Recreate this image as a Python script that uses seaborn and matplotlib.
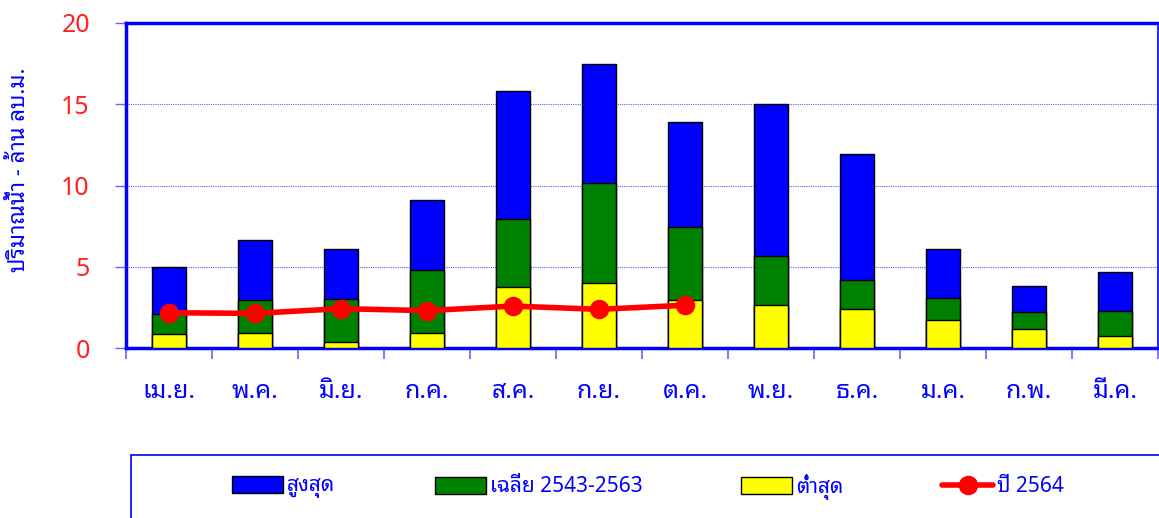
import matplotlib
matplotlib.use("Agg")
import matplotlib.pyplot as plt
from matplotlib.patches import Rectangle, Patch
from matplotlib.lines import Line2D
import seaborn as sns
import pandas as pd

months = ["เม.ย.", "พ.ค.", "มิ.ย.", "ก.ค.", "ส.ค.", "ก.ย.",
          "ต.ค.", "พ.ย.", "ธ.ค.", "ม.ค.", "ก.พ.", "มี.ค."]
max_vals = [4.98, 6.65, 6.11, 9.13, 15.83, 17.46, 13.90, 15.00, 11.94, 6.07, 3.83, 4.70]
avg_vals = [2.10, 2.97, 3.03, 4.80, 7.92, 10.15, 7.45, 5.64, 4.16, 3.06, 2.19, 2.30]
min_vals = [0.85, 0.94, 0.39, 0.94, 3.77, 4.02, 2.95, 2.63, 2.38, 1.74, 1.19, 0.76]
y2564_vals = [2.17, 2.13, 2.42, 2.30, 2.58, 2.38, 2.63]
y_ticks = [0, 5, 10, 15, 20]

sns.set_theme(style="white")
FONTS = ["Noto Sans Thai Looped", "Sarabun", "Noto Sans Thai", "Athiti", "DejaVu Sans"]
plt.rcParams["font.family"] = FONTS

W, H = 1159, 518
fig = plt.figure(figsize=(W / 100, H / 100), dpi=100)
ax = fig.add_axes([126 / W, 1 - 348 / H, (1158 - 126) / W, (348 - 23) / H])

df = pd.DataFrame({"month": months, "max": max_vals, "avg": avg_vals, "min": min_vals})
for col, colr in [("max", "#0000FF"), ("avg", "#008000"), ("min", "#FFFF00")]:
    sns.barplot(data=df, x="month", y=col, order=months, color=colr, width=0.4,
                edgecolor="black", linewidth=1.0, saturation=1, ax=ax, zorder=3)

ax.plot(range(len(y2564_vals)), y2564_vals, color="#FF0000", lw=4, marker="o",
        markersize=13, zorder=5, solid_capstyle="round")

ax.set_xlim(-0.5, len(months) - 0.5)
ax.set_ylim(0, 20)
ax.set_yticks(y_ticks)
ax.set_yticklabels([str(t) for t in y_ticks], color="#FF2222", fontsize=18)
ax.yaxis.grid(True, color="#3333FF", linestyle=(0, (1, 1)), linewidth=0.8, alpha=0.8)
ax.set_axisbelow(True)

# category boundaries carry the x tick marks; labels sit at bar centres
ax.set_xticks([i - 0.5 for i in range(len(months) + 1)], minor=False)
ax.set_xticklabels([])
ax.set_xticks(range(len(months)), minor=True)
ax.set_xticklabels(months, minor=True, color="#0000FF", fontsize=18)
ax.tick_params(axis="x", which="major", direction="out", length=8, width=1.2,
               color="#6666FF", bottom=True)
ax.tick_params(axis="x", which="minor", length=0, pad=22)
ax.tick_params(axis="y", direction="out", length=8, width=1.0, color="#6666FF",
               left=True, pad=18)
ax.set_xlabel("")
ax.set_ylabel("ปริมาณน้ำ - ล้าน ลบ.ม.", color="#0000FF", fontsize=16)
ax.yaxis.set_label_coords(-0.093, 0.55)

for side, lw in [("left", 2.5), ("bottom", 2.5), ("top", 2.5), ("right", 1.2)]:
    ax.spines[side].set_visible(True)
    ax.spines[side].set_color("#0000FF")
    ax.spines[side].set_linewidth(lw)

# legend panel
fig.patches.append(Rectangle((131 / W, -0.05), 1.0, 0.05 + (H - 455) / H,
                             transform=fig.transFigure, fill=False,
                             edgecolor="#0000FF", linewidth=1.2, clip_on=False))
entries = [
    (Patch(facecolor="#0000FF", edgecolor="black", label="สูงสุด"), 232),
    (Patch(facecolor="#008000", edgecolor="black", label="เฉลี่ย 2543-2563"), 435),
    (Patch(facecolor="#FFFF00", edgecolor="black", label="ต่ำสุด"), 741),
    (Line2D([0], [0], color="#FF0000", lw=4, marker="o", markersize=13,
            label="ปี 2564"), 942),
]
for handle, x0 in entries:
    leg = fig.legend(handles=[handle], loc="center left",
                     bbox_to_anchor=(x0 / W, 1 - 487 / H), frameon=False, fontsize=15,
                     handlelength=2.45, handleheight=0.9, handletextpad=0.2,
                     borderpad=0, borderaxespad=0)
    for t in leg.get_texts():
        t.set_color("#0000FF")

fig.savefig("out.png", dpi=100)
